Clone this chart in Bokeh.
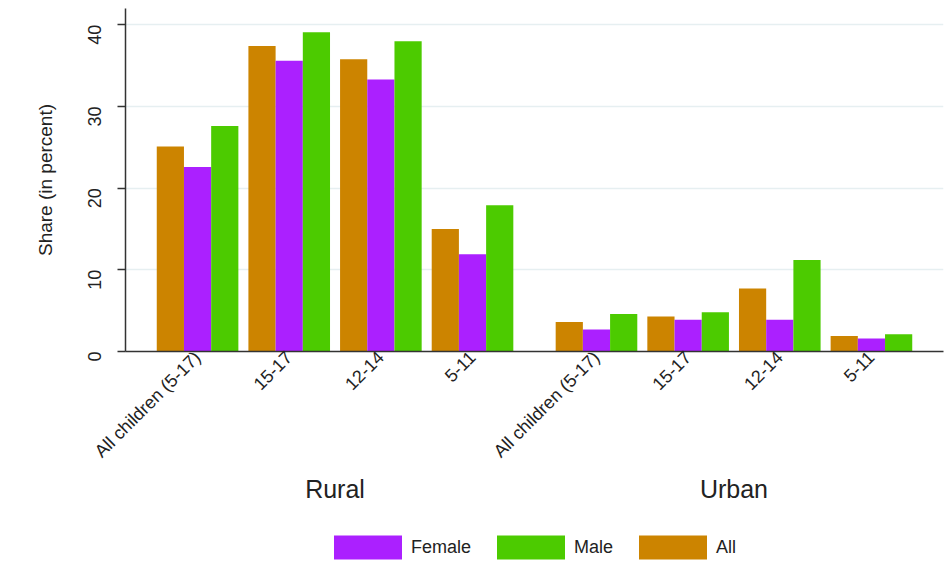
import math
from bokeh.plotting import figure
from bokeh.layouts import column
from bokeh.models import FactorRange, Range1d, FixedTicker, Legend, LegendItem, ColumnDataSource
from bokeh.transform import dodge
from bokeh.embed import file_html
from bokeh.resources import INLINE

groups = ["Rural", "Urban"]
age_cats = ["All children (5-17)", "15-17", "12-14", "5-11"]
all_vals = [25.1, 37.4, 35.8, 15.0, 3.6, 4.3, 7.7, 1.9]
female_vals = [22.6, 35.6, 33.3, 11.9, 2.7, 3.9, 3.9, 1.6]
male_vals = [27.6, 39.1, 38.0, 17.9, 4.6, 4.8, 11.2, 2.1]
y_ticks = [0, 10, 20, 30, 40]
legend_labels = ["Female", "Male", "All"]

factors = [(g, c) for g in groups for c in age_cats]
src = ColumnDataSource(dict(x=factors, all=all_vals, female=female_vals, male=male_vals))

FONT = "Liberation Sans"
C_ALL = "#cc8400"
C_FEM = "#ab20ff"
C_MALE = "#4ccb00"
TXT = "#222222"

xr = FactorRange(*factors, factor_padding=0.123, group_padding=0.519,
                 range_padding=0.383, range_padding_units="absolute")
p = figure(x_range=xr, y_range=Range1d(0, 42), width=946, height=471,
           output_backend="svg", toolbar_location=None,
           min_border_top=8, min_border_right=3, min_border_left=125, min_border_bottom=120)

w = 1 / 3
p.vbar(x=dodge("x", -w, range=p.x_range), top="all", width=w, source=src,
       fill_color=C_ALL, line_color=None)
p.vbar(x=dodge("x", 0, range=p.x_range), top="female", width=w, source=src,
       fill_color=C_FEM, line_color=None)
p.vbar(x=dodge("x", w, range=p.x_range), top="male", width=w, source=src,
       fill_color=C_MALE, line_color=None)

p.outline_line_color = None
p.xgrid.grid_line_color = None
p.ygrid.grid_line_color = "#e6eff1"
p.ygrid.grid_line_width = 1.5
p.yaxis.ticker = FixedTicker(ticks=y_ticks)
p.yaxis.major_label_orientation = math.pi / 2
p.yaxis.axis_label = "Share (in percent)"
p.yaxis.axis_label_text_font = FONT
p.yaxis.axis_label_text_font_style = "normal"
p.yaxis.axis_label_text_font_size = "19px"
p.yaxis.axis_label_text_color = TXT
p.yaxis.axis_label_standoff = 23
p.yaxis.major_label_text_font = FONT
p.yaxis.major_label_text_font_size = "18px"
p.yaxis.major_label_text_color = TXT
p.yaxis.major_label_standoff = 23
p.yaxis.major_tick_out = 8
p.yaxis.major_tick_in = 0
p.yaxis.minor_tick_line_color = None
p.yaxis.axis_line_color = "#333333"
p.yaxis.axis_line_width = 1.5
p.yaxis.major_tick_line_color = "#333333"
p.yaxis.major_tick_line_width = 1.5

p.xaxis.major_label_orientation = math.pi / 4
p.xaxis.major_label_text_font = FONT
p.xaxis.major_label_text_font_size = "18px"
p.xaxis.major_label_text_color = TXT
p.xaxis.group_text_font_size = "1px"
p.xaxis.group_text_alpha = 0
p.xaxis.separator_line_color = None
p.xaxis.major_tick_line_color = None
p.xaxis.major_tick_out = 0
p.xaxis.minor_tick_line_color = None
p.xaxis.axis_line_color = "#333333"
p.xaxis.axis_line_width = 1.5
p.xaxis.major_label_standoff = 3

# strip below the chart: group names (Rural / Urban) and the legend
lf = figure(x_range=xr, y_range=Range1d(100, 101), width=946, height=96,
            x_axis_location="above", output_backend="svg", toolbar_location=None,
            min_border_top=0, min_border_right=3, min_border_left=125, min_border_bottom=0)
lf.yaxis.visible = False
lf.grid.visible = False
lf.outline_line_color = None
lf.xaxis.axis_line_color = None
lf.xaxis.major_tick_line_color = None
lf.xaxis.minor_tick_line_color = None
lf.xaxis.major_tick_out = 0
lf.xaxis.major_label_text_font_size = "1px"
lf.xaxis.major_label_text_alpha = 0
lf.xaxis.major_label_standoff = 0
lf.xaxis.separator_line_color = None
lf.xaxis.group_text_font = FONT
lf.xaxis.group_text_font_size = "25px"
lf.xaxis.group_text_font_style = "normal"
lf.xaxis.group_text_color = TXT

l_fem = lf.vbar(x=dodge("x", 0, range=lf.x_range), top="female", width=w, source=src,
                fill_color=C_FEM, line_color=None)
l_male = lf.vbar(x=dodge("x", w, range=lf.x_range), top="male", width=w, source=src,
                 fill_color=C_MALE, line_color=None)
l_all = lf.vbar(x=dodge("x", -w, range=lf.x_range), top="all", width=w, source=src,
                fill_color=C_ALL, line_color=None)
legend = Legend(items=[LegendItem(label=legend_labels[0], renderers=[l_fem]),
                       LegendItem(label=legend_labels[1], renderers=[l_male]),
                       LegendItem(label=legend_labels[2], renderers=[l_all])],
                orientation="horizontal", location=(200, 5),
                glyph_width=85, glyph_height=30, label_text_font=FONT,
                label_text_font_size="18px", label_text_color=TXT,
                label_standoff=1, spacing=17, border_line_color=None,
                background_fill_alpha=0, margin=0, padding=0)
lf.add_layout(legend, "center")

layout = column(p, lf, spacing=0)
open("out.html", "w").write(file_html(layout, INLINE))
